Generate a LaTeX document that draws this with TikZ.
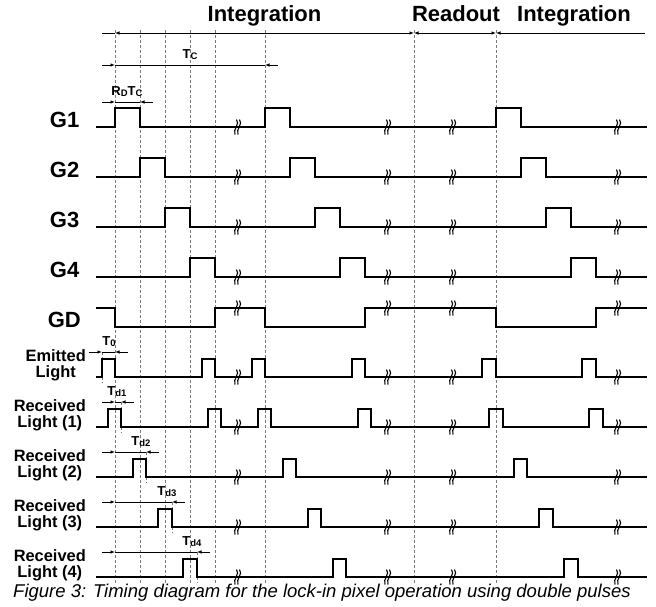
\documentclass[tikz,border=0pt]{standalone}
\usepackage{fontspec}
\setmainfont{Liberation Sans}
\usetikzlibrary{arrows.meta, calc}
\definecolor{ink}{HTML}{000000}
\definecolor{grid}{HTML}{7A7A7A}
\newcommand\tdsub[1]{\raisebox{-1pt}{\fontsize{9.5}{11}\selectfont #1}}
\tikzset{
  every node/.style = {text=ink, inner sep=0pt},
  tdsig/.style    = {draw=ink, line width=2.6pt, line join=miter},
  tdgrid/.style   = {draw=grid, line width=0.8pt, dash pattern=on 3pt off 2pt},
  tdbrk/.style    = {draw=ink, line width=1.1pt},
  tdline/.style   = {draw=ink, line width=0.8pt},
  tdhead/.style   = {font=\fontsize{22}{26}\selectfont\bfseries, anchor=base},
  tdgate/.style   = {font=\fontsize{22}{26}\selectfont\bfseries, anchor=base east},
  tdlight/.style  = {font=\fontsize{16.4}{15.6}\selectfont\bfseries, anchor=east, align=center},
  tddimlab/.style = {font=\fontsize{13}{15}\selectfont\bfseries, anchor=base},
  tdcap/.style    = {font=\fontsize{18.5}{22}\selectfont\itshape, anchor=base west},
}

\begin{document}
\begin{tikzpicture}[x=1pt, y=-1pt, >={Latex[length=4.5pt,width=3.5pt]}]
\useasboundingbox (0,0) rectangle (656,606);

% time marks
\foreach \x in {115,140,165,190,215,265,414,496}
  \draw[tdgrid] (\x,30) -- (\x,583);
\foreach \x/\y in {102/352,121/402,146/452,172/502,197/552}
  \draw[tdgrid] (\x,\y) -- (\x,\y+31);

% phases
\node[tdhead] (H1) at (264.5,21.7) {Integration};
\node[tdhead] (H2) at (456,21.7) {Readout};
\node[tdhead] (H3) at (574,21.7) {Integration};
\coordinate (P0) at (102,33);
\coordinate (P1) at (115,33);
\coordinate (P2) at (414,33);
\coordinate (P3) at (496,33);
\coordinate (P4) at (645,33);
\draw[tdline] (P0) -- (P1);
\draw[tdline, <->] (P1) -- (P2);
\draw[tdline, <->] (P2) -- (P3);
\draw[tdline, <-] (P3) -- (P4);

% gates
\foreach \n/\y/\lst in {%
  1/127/{115/140,265/290,496/521},
  2/177/{140/165,290/315,521/546},
  3/227/{165/190,315/340,546/571},
  4/277/{190/215,340/365,571/596}%
}{
  \node[tdgate] (G\n) at (79.5,\y) {G\n};
  \draw[tdsig] (96,\y) \foreach \a/\b in \lst {-- (\a,\y) -- (\a,\y-19) -- (\b,\y-19) -- (\b,\y)} -- (647,\y);
}
\node[tdgate] (GD) at (81,327) {GD};
\draw[tdsig] (96,308) -- (115,308) -- (115,327)
  \foreach \a/\b in {215/265,365/496} {-- (\a,327) -- (\a,308) -- (\b,308) -- (\b,327)}
  -- (596,327) -- (596,308) -- (647,308);

% light
\node[tdlight] (LE) at (86,365) {Emitted\\Light};
\node[tdlight] (LR1) at (86,415) {Received\\Light (1)};
\node[tdlight] (LR2) at (86,465) {Received\\Light (2)};
\node[tdlight] (LR3) at (86,515) {Received\\Light (3)};
\node[tdlight] (LR4) at (86,565) {Received\\Light (4)};
\foreach \y/\lst in {%
  377/{102/115,202/215,252/265,352/365,482/496,582/596},
  427/{108/121,208/221,258/271,358/371,489/503,589/603},
  477/{133/146,283/296,514/527},
  527/{158/172,308/321,539/553},
  577/{183/197,333/346,564/578}%
}{
  \draw[tdsig] (96,\y) \foreach \a/\b in \lst {-- (\a,\y) -- (\a,\y-18) -- (\b,\y-18) -- (\b,\y)} -- (647,\y);
}

% breaks
\foreach \y in {127,177,227,277,308,377,427,477,527,577}
  \foreach \x in {237,387,452,617}{
    \draw[tdbrk] (\x-0.5,\y-7.5) .. controls (\x+3.5,\y-3) and (\x-4.5,\y+2) .. (\x-2,\y+7.5);
    \draw[tdbrk] (\x+2.5,\y-7.5) .. controls (\x+6.5,\y-3) and (\x-1.5,\y+2) .. (\x+1,\y+7.5);
  }

% intervals
\foreach \n/\y/\a/\b/\lx/\txt in {%
  Tc/65/115/265/190/{T\tdsub{C}},
  RT/102/115/140/127/{R\tdsub{D}T\tdsub{C}},
  T0/352/102/115/109/{T\tdsub{0}},
  Td1/402/115/121/117/{T\tdsub{d1}},
  Td2/452/115/146/141/{T\tdsub{d2}},
  Td3/502/115/172/167/{T\tdsub{d3}},
  Td4/552/115/197/192/{T\tdsub{d4}}%
}{
  \coordinate (\n L) at (\a,\y);
  \coordinate (\n R) at (\b,\y);
  \draw[tdline] (\n L) -- (\n R);
  \draw[tdline, ->] ($(\n L)+(-13,0)$) -- (\n L);
  \draw[tdline, ->] ($(\n R)+(12.5,0)$) -- (\n R);
  \node[tddimlab] (D\n) at (\lx,\y-6.5) {\txt};
}

\node[tdcap] (C) at (13,597) {Figure 3: Timing diagram for the lock-in pixel operation using double pulses};
\end{tikzpicture}
\end{document}
